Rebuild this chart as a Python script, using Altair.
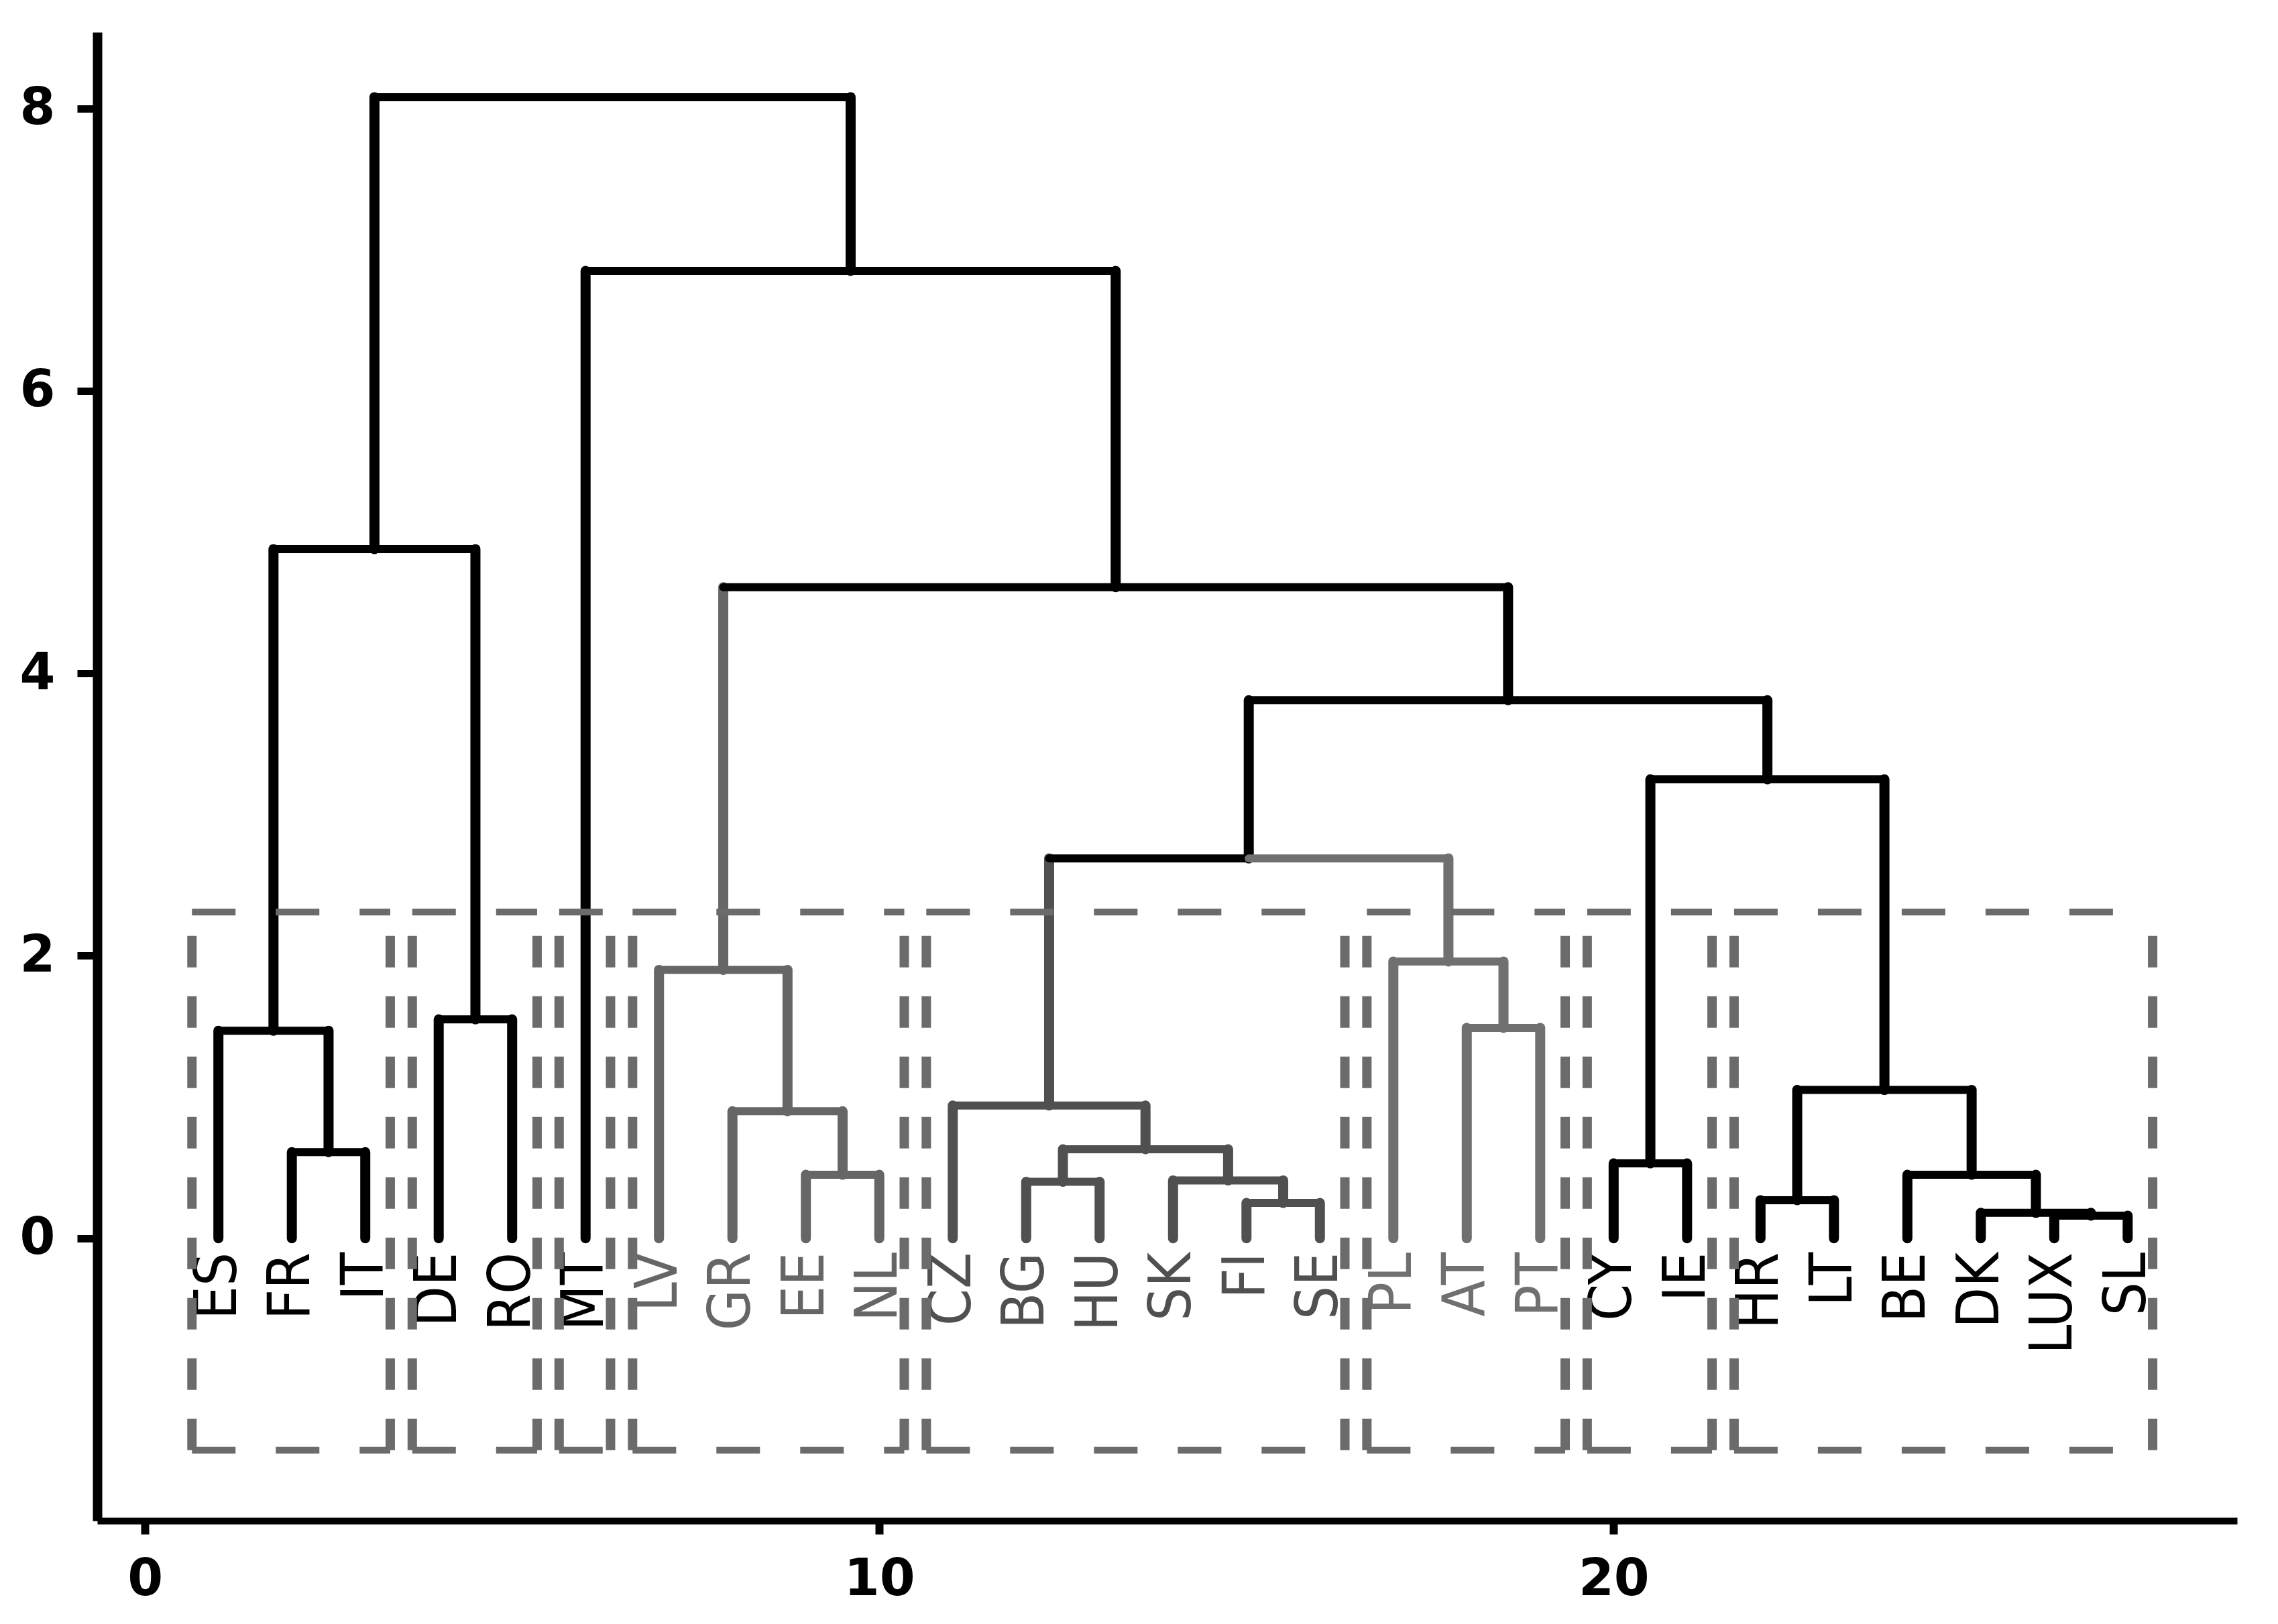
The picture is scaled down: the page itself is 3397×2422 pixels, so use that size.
import altair as alt
import pandas as pd

# ---------------- data ----------------
leaves = ["ES", "FR", "IT", "DE", "RO", "MT", "LV", "GR", "EE", "NL",
          "CZ", "BG", "HU", "SK", "FI", "SE", "PL", "AT", "PT",
          "CY", "IE", "HR", "LT", "BE", "DK", "LUX", "SL"]

# agglomeration steps: child a, child b, merge height ("mK" = K-th merge, 1-based)
merge_a = ["FR", "ES", "DE", "m2", "EE", "GR", "LV", "FI", "SK", "BG",
           "m10", "CZ", "AT", "PL", "m12", "CY", "HR", "LUX", "DK", "BE",
           "m17", "m16", "m15", "m7", "MT", "m4"]
merge_b = ["IT", "m1", "RO", "m3", "NL", "m5", "m6", "SE", "m8", "HU",
           "m9", "m11", "PT", "m13", "m14", "IE", "LT", "SL", "m18", "m19",
           "m20", "m21", "m22", "m23", "m24", "m25"]
merge_h = [0.61, 1.47, 1.55, 4.88, 0.45, 0.90, 1.90, 0.25, 0.41, 0.40,
           0.63, 0.94, 1.49, 1.96, 2.69, 0.53, 0.27, 0.16, 0.18, 0.45,
           1.05, 3.25, 3.81, 4.61, 6.85, 8.08]

# cluster (k = 8) of each leaf, and the colour of each cluster
leaf_cluster = [1, 1, 1, 2, 2, 3, 4, 4, 4, 4,
                5, 5, 5, 5, 5, 5, 6, 6, 6,
                7, 7, 8, 8, 8, 8, 8, 8]
cluster_colors = {1: "#000000", 2: "#000000", 3: "#000000", 4: "#666666",
                  5: "#505050", 6: "#707070", 7: "#000000", 8: "#000000"}

rect_top = 2.31
rect_bottom = -1.50

x_ticks = [0, 10, 20]
y_ticks = [0, 2, 4, 6, 8]

# ---------------- build tree geometry from the data ----------------
pos, hgt, memb = {}, {}, {}
for i, lf in enumerate(leaves):
    pos[lf] = i + 1
    hgt[lf] = 0.0
    memb[lf] = {leaf_cluster[i]}


def clus_col(node):
    return cluster_colors[next(iter(memb[node]))] if len(memb[node]) == 1 else "#000000"


vert_rows, horiz_rows = [], []
for k, (a, b, h) in enumerate(zip(merge_a, merge_b, merge_h)):
    name = f"m{k + 1}"
    pos[name] = (pos[a] + pos[b]) / 2
    hgt[name] = h
    memb[name] = memb[a] | memb[b]
    parent_col = clus_col(name)
    for side, c in (("left", a), ("right", b)):
        vcol = clus_col(c)
        hcol = vcol if side == "right" else parent_col
        vert_rows.append({"x": pos[c], "y": hgt[c], "y2": h, "col": vcol})
        horiz_rows.append({"x": pos[c], "x2": pos[name], "y": h, "col": hcol})

vert_df = pd.DataFrame(vert_rows)
horiz_df = pd.DataFrame(horiz_rows)

label_df = pd.DataFrame({
    "x": [i + 1 for i in range(len(leaves))],
    "y": [-0.1] * len(leaves),
    "label": leaves,
    "col": [cluster_colors[c] for c in leaf_cluster],
})

box_h, box_v = [], []
for cl in sorted(set(leaf_cluster)):
    idx = [i + 1 for i, c in enumerate(leaf_cluster) if c == cl]
    x0, x1 = min(idx) - 0.36, max(idx) + 0.34
    box_h.append({"x": x0, "x2": x1, "y": rect_top})
    box_h.append({"x": x0, "x2": x1, "y": rect_bottom})
    box_v.append({"x": x0, "y": rect_bottom, "y2": rect_top})
    box_v.append({"x": x1, "y": rect_bottom, "y2": rect_top})
box_h_df = pd.DataFrame(box_h)
box_v_df = pd.DataFrame(box_v)

# ---------------- encodings ----------------
TICK_FONT = "DejaVu Sans"
LEAF_FONT = "Liberation Sans Narrow, DejaVu Sans Condensed, Liberation Sans"
xscale = alt.Scale(domain=[-0.65, 28.49], nice=False, zero=False)
yscale = alt.Scale(domain=[-2.0, 8.54], nice=False, zero=False)
xaxis = alt.Axis(values=x_ticks, format="d", title=None, grid=False,
                 labelFont=TICK_FONT, labelFontSize=76, labelFontWeight="bold",
                 labelColor="black",
                 domainColor="black", domainWidth=10,
                 tickColor="black", tickWidth=12, tickSize=20, labelPadding=30)
yaxis = alt.Axis(values=y_ticks, format="d", title=None, grid=False,
                 labelFont=TICK_FONT, labelFontSize=76, labelFontWeight="bold",
                 labelColor="black",
                 domainColor="black", domainWidth=14,
                 tickColor="black", tickWidth=11, tickSize=30, labelPadding=33)


def X(field="x"):
    return alt.X(f"{field}:Q", scale=xscale, axis=xaxis)


def Y(field="y"):
    return alt.Y(f"{field}:Q", scale=yscale, axis=yaxis)


verts = alt.Chart(vert_df).mark_rule(strokeWidth=15, strokeCap="round").encode(
    x=X(), y=Y(), y2="y2:Q", color=alt.Color("col:N", scale=None))
horiz = alt.Chart(horiz_df).mark_rule(strokeWidth=12, strokeCap="round").encode(
    x=X(), x2="x2:Q", y=Y(), color=alt.Color("col:N", scale=None))

labels = alt.Chart(label_df).mark_text(
    angle=270, align="right", baseline="middle", font=LEAF_FONT, fontSize=88
).encode(x=X(), y=Y(), text="label:N", color=alt.Color("col:N", scale=None))

bh = alt.Chart(box_h_df).mark_rule(
    strokeWidth=10, strokeDash=[65, 60], color="#6b6b6b"
).encode(x=X(), x2="x2:Q", y=Y())
bv = alt.Chart(box_v_df).mark_rule(
    strokeWidth=14, strokeDash=[47, 43], color="#6b6b6b"
).encode(x=X(), y=Y(), y2="y2:Q")

chart = alt.layer(verts, horiz, labels, bh, bv).properties(
    width=3191, height=2220,
    padding={"left": 137, "top": 40, "right": 40, "bottom": 130},
    autosize=alt.AutoSizeParams(type="none"),
    background="white",
).configure_view(stroke=None)

chart.save("out.html", embed_options={"renderer": "svg", "actions": False})
